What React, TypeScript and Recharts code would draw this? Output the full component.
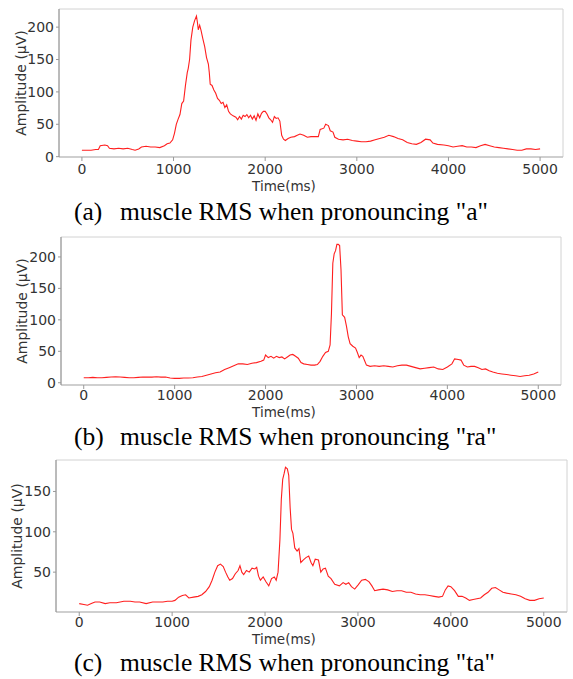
import { LineChart, Line, XAxis, YAxis, ReferenceArea, Label } from 'recharts';

const X_TICKS = [0, 1000, 2000, 3000, 4000, 5000];

// (a) "a"
const TIME_A = [
  0, 50, 100, 150, 180, 200, 250, 280, 300, 350, 400, 450, 500, 550, 580, 620, 650, 700, 750, 800,
  850, 900, 930, 960, 990, 1010, 1030, 1050, 1070, 1090, 1110, 1130, 1150, 1160, 1175, 1190, 1210,
  1230, 1250, 1260, 1270, 1285, 1300, 1320, 1340, 1360, 1380, 1390, 1400, 1420, 1440, 1460, 1480,
  1500, 1520, 1540, 1560, 1580, 1600, 1620, 1650, 1680, 1700, 1720, 1740, 1760, 1780, 1800, 1820,
  1840, 1860, 1880, 1900, 1920, 1940, 1960, 1980, 2000, 2020, 2040, 2060, 2080, 2100, 2120, 2140,
  2160, 2180, 2200, 2220, 2250, 2280, 2320, 2350, 2380, 2420, 2460, 2500, 2540, 2580, 2600, 2640,
  2660, 2690, 2710, 2740, 2760, 2800, 2850, 2900, 2950, 3000, 3050, 3100, 3150, 3200, 3250, 3300,
  3350, 3400, 3450, 3500, 3550, 3600, 3650, 3700, 3750, 3800, 3830, 3880, 3950, 4000, 4050, 4100,
  4150, 4200, 4250, 4300, 4350, 4400, 4450, 4500, 4550, 4600, 4650, 4700, 4750, 4800, 4850, 4900,
  4950, 5000,
];
const RMS_A = [
  10, 10, 10, 11, 11, 17, 18, 17, 13, 12, 13, 12, 13, 11, 10, 12, 15, 16, 15, 15,
  14, 17, 20, 21, 26, 36, 50, 58, 65, 82, 86, 110, 130, 136, 150, 180, 200,
  210, 217, 208, 196, 203, 195, 182, 170, 153, 143, 130, 112, 110, 103, 98, 90,
  87, 82, 84, 76, 80, 70, 66, 63, 61, 57, 62, 58, 64, 62, 65, 60,
  64, 58, 63, 56, 66, 60, 67, 70, 70, 66, 60, 57, 53, 62, 59, 60,
  55, 33, 27, 25, 28, 30, 31, 33, 35, 33, 30, 31, 31, 31, 42, 44,
  50, 48, 40, 38, 30, 27, 26, 27, 25, 24, 23, 23, 24, 26, 28, 30,
  33, 31, 28, 26, 22, 20, 19, 22, 27, 26, 21, 19, 18, 17, 15, 16,
  17, 15, 15, 14, 17, 19, 17, 15, 14, 13, 12, 11, 10, 10, 12, 12,
  11, 12,
];

// (b) "ra"
const TIME_B = [
  0, 50, 100, 150, 200, 250, 300, 350, 400, 450, 500, 550, 600, 650, 700, 750, 800, 850, 900, 950,
  1000, 1050, 1100, 1150, 1200, 1250, 1300, 1350, 1400, 1450, 1500, 1550, 1600, 1650, 1700, 1750,
  1800, 1850, 1900, 1950, 1980, 2000, 2030, 2060, 2090, 2120, 2150, 2180, 2210, 2240, 2270, 2300,
  2330, 2360, 2390, 2420, 2460, 2500, 2540, 2570, 2600, 2630, 2660, 2690, 2710, 2725, 2740, 2755,
  2770, 2785, 2800, 2815, 2830, 2845, 2870, 2890, 2910, 2930, 2960, 2990, 3010, 3030, 3050, 3070,
  3090, 3110, 3150, 3200, 3250, 3300, 3350, 3400, 3450, 3500, 3550, 3600, 3650, 3700, 3750, 3800,
  3850, 3900, 3950, 4000, 4050, 4080, 4120, 4150, 4180, 4220, 4260, 4300, 4340, 4380, 4420, 4460,
  4500, 4550, 4600, 4650, 4700, 4750, 4800, 4850, 4900, 4950, 5000,
];
const RMS_B = [
  8, 8, 8.5, 8, 8, 8.5, 9, 9.5, 9, 8.5, 8, 8, 8.5, 9, 9, 9, 9.5, 9, 9, 7.5,
  7, 7, 7.5, 7.5, 8, 9, 10, 12, 14, 16, 17, 21, 24, 27, 30, 30,
  29, 31, 32, 34, 36, 44, 40, 42, 39, 42, 40, 41, 38, 41, 44, 45,
  42, 39, 32, 30, 29, 28, 28, 29, 34, 42, 48, 50, 60, 110, 190, 205,
  210, 220, 220, 218, 180, 108, 104, 90, 73, 62, 58, 55, 48, 40, 44, 42,
  35, 28, 26, 27, 26, 27, 26, 25, 27, 28, 28, 26, 24, 22, 23, 24,
  25, 22, 21, 25, 30, 38, 37, 36, 28, 25, 26, 26, 24, 21, 22, 19,
  17, 15, 14, 13, 12, 11, 10, 11, 12, 14, 17,
];

// (c) "ta"
const TIME_C = [
  0, 50, 90, 130, 170, 220, 280, 330, 400, 480, 550, 600, 650, 720, 790, 850, 900, 950, 1000, 1030,
  1070, 1110, 1145, 1180, 1230, 1280, 1320, 1360, 1400, 1430, 1460, 1490, 1520, 1550, 1575, 1600,
  1620, 1650, 1680, 1710, 1730, 1750, 1770, 1800, 1830, 1860, 1890, 1910, 1930, 1950, 1980, 2010,
  2040, 2070, 2100, 2120, 2140, 2160, 2175, 2190, 2205, 2220, 2240, 2255, 2270, 2285, 2300, 2320,
  2345, 2365, 2385, 2410, 2440, 2470, 2495, 2515, 2540, 2575, 2600, 2625, 2650, 2680, 2710, 2750,
  2800, 2840, 2870, 2900, 2930, 2965, 3000, 3040, 3080, 3120, 3150, 3180, 3220, 3270, 3320, 3370,
  3420, 3470, 3520, 3570, 3620, 3670, 3720, 3770, 3820, 3870, 3910, 3940, 3970, 4000, 4040, 4080,
  4120, 4160, 4200, 4240, 4280, 4320, 4360, 4400, 4440, 4480, 4520, 4560, 4600, 4650, 4700, 4750,
  4800, 4850, 4900, 4950, 5000,
];
const RMS_C = [
  11, 10, 9, 11, 13, 13, 11, 12, 12, 14, 14, 13, 13, 11, 13, 13, 13, 14, 14, 15,
  19, 21, 22, 18, 19, 20, 22, 26, 32, 40, 50, 58, 60, 57, 50, 44,
  40, 42, 48, 52, 58, 50, 47, 52, 50, 55, 54, 56, 45, 40, 44, 38,
  33, 42, 44, 40, 50, 90, 140, 165, 172, 180, 178, 170, 130, 103, 98, 80,
  76, 79, 62, 65, 68, 70, 62, 58, 66, 65, 50, 54, 55, 45, 42, 35,
  33, 37, 35, 37, 32, 29, 34, 40, 41, 38, 33, 27, 28, 29, 28, 26,
  27, 27, 25, 25, 23, 22, 22, 21, 20, 19, 20, 28, 33, 32, 27, 20,
  20, 18, 15, 16, 17, 18, 22, 25, 30, 31, 28, 25, 24, 23, 22, 20,
  17, 15, 15, 17, 18,
];

const X_DOMAIN: [number, number] = [-250, 5250];
const TICK_FONT = { fontFamily: 'DejaVu Sans', fontSize: 14, fill: '#333' };
const LABEL_FONT = { fontFamily: 'DejaVu Sans', fontSize: 14, fill: '#333' };
const XLABEL_FONT = { fontFamily: 'DejaVu Sans', fontSize: 13.5, fill: '#333' };
// the x label sits left of the plot centre in the reference
const X_LABEL_CX = 284;

type PanelProps = {
  time: number[];
  rms: number[];
  yDomain: [number, number];
  yTicks: number[];
  chartTop: number;
  plotTop: number;
  plotBottom: number;
  plotLeft: number;
  plotRight: number;
  yLabelX: number;
  xTickGap: number;
  xLabelOffset: number;
};

function Panel({
  time,
  rms,
  yDomain,
  yTicks,
  chartTop,
  plotTop,
  plotBottom,
  plotLeft,
  plotRight,
  yLabelX,
  xTickGap,
  xLabelOffset,
}: PanelProps) {
  const rows = time.map((t, i) => ({ t, v: rms[i] }));
  const axisH = 40;

  return (
    <div style={{ position: 'absolute', left: 0, top: chartTop }}>
      <LineChart
        width={573}
        height={plotBottom + axisH - chartTop}
        data={rows}
        margin={{ top: plotTop - chartTop, right: 573 - plotRight, bottom: 0, left: 0 }}
      >
        <ReferenceArea
          x1={X_DOMAIN[0]}
          x2={X_DOMAIN[1]}
          y1={yDomain[0]}
          y2={yDomain[1]}
          fill="none"
          stroke="#d2d2d2"
          strokeWidth={1}
        />
        <XAxis
          dataKey="t"
          type="number"
          domain={X_DOMAIN}
          ticks={X_TICKS}
          allowDataOverflow
          height={axisH}
          tickSize={4}
          tickMargin={xTickGap}
          tick={TICK_FONT}
          axisLine={{ stroke: '#b5b5b5' }}
          tickLine={{ stroke: '#999' }}
        >
          <Label
            content={(p: any) => {
              const vb = p.viewBox || {};
              return (
                <text
                  x={X_LABEL_CX}
                  y={vb.y + vb.height - xLabelOffset}
                  textAnchor="middle"
                  style={XLABEL_FONT}
                >
                  Time(ms)
                </text>
              );
            }}
          />
        </XAxis>
        <YAxis
          type="number"
          domain={yDomain}
          ticks={yTicks}
          allowDataOverflow
          width={plotLeft}
          tickSize={3}
          tickMargin={2}
          tick={TICK_FONT}
          axisLine={{ stroke: '#8c8c8c' }}
          tickLine={{ stroke: '#999' }}
          label={{
            value: 'Amplitude (μV)',
            angle: -90,
            position: 'insideLeft',
            offset: yLabelX,
            style: { ...LABEL_FONT, textAnchor: 'middle' },
          }}
        />
        <Line
          type="linear"
          dataKey="v"
          stroke="#ff1f1f"
          strokeWidth={1.1}
          dot={false}
          isAnimationActive={false}
        />
      </LineChart>
    </div>
  );
}

function Caption({ top, tag, text }: { top: number; tag: string; text: string }) {
  return (
    <div
      style={{
        position: 'absolute',
        left: 74,
        top,
        fontFamily: '"Liberation Serif", "Times New Roman", serif',
        fontSize: 25.5,
        lineHeight: '25px',
        color: '#000',
        whiteSpace: 'nowrap',
      }}
    >
      <span style={{ display: 'inline-block', width: 46 }}>{tag}</span>
      {text}
    </div>
  );
}

export default function App() {
  return (
    <div
      style={{
        position: 'absolute',
        left: 0,
        top: 0,
        width: 573,
        height: 679,
        background: '#fff',
        overflow: 'hidden',
      }}
    >
      <Panel
        time={TIME_A}
        rms={RMS_A}
        yDomain={[-0.5, 228]}
        yTicks={[0, 50, 100, 150, 200]}
        chartTop={0}
        plotTop={9}
        plotBottom={157}
        plotLeft={59}
        plotRight={563}
        yLabelX={21}
        xTickGap={3}
        xLabelOffset={6.5}
      />
      <Caption top={199} tag="(a)" text={'muscle RMS when pronouncing "a"'} />
      <Panel
        time={TIME_B}
        rms={RMS_B}
        yDomain={[-3.6, 231.7]}
        yTicks={[0, 50, 100, 150, 200]}
        chartTop={225}
        plotTop={237}
        plotBottom={385}
        plotLeft={61}
        plotRight={561}
        yLabelX={22}
        xTickGap={1}
        xLabelOffset={8.5}
      />
      <Caption top={424} tag="(b)" text={'muscle RMS when pronouncing "ra"'} />
      <Panel
        time={TIME_C}
        rms={RMS_C}
        yDomain={[0.6, 189]}
        yTicks={[50, 100, 150]}
        chartTop={450}
        plotTop={460}
        plotBottom={612}
        plotLeft={56}
        plotRight={567}
        yLabelX={17}
        xTickGap={1}
        xLabelOffset={8.5}
      />
      <Caption top={650} tag="(c)" text={'muscle RMS when pronouncing "ta"'} />
    </div>
  );
}
